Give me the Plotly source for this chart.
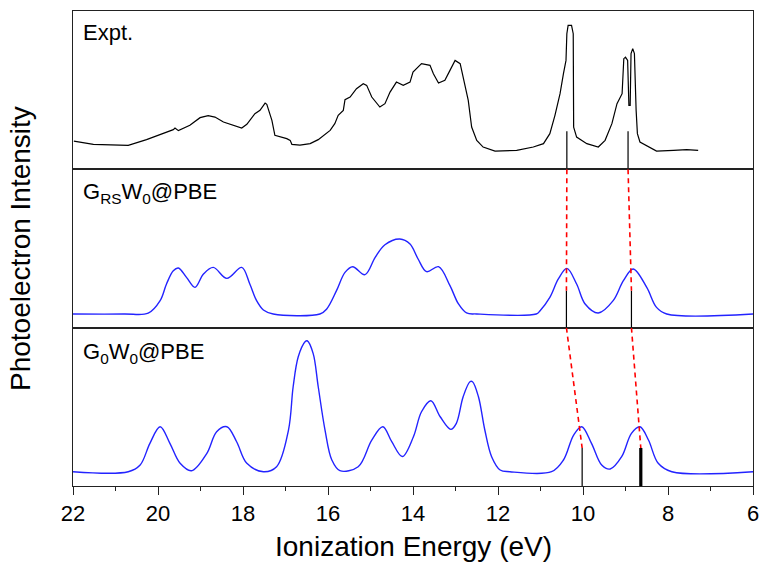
import plotly.graph_objects as go
from plotly.subplots import make_subplots

# ---------------- data ----------------
expt_E = [21.98, 21.52, 20.70, 20.27, 19.64, 19.60, 19.52, 19.25, 19.01, 18.82, 18.66, 18.46,
          18.03, 17.91, 17.72, 17.60, 17.48, 17.44, 17.32, 17.25, 16.97, 16.89, 16.85, 16.66,
          16.42, 16.23, 15.95, 15.84, 15.76, 15.64, 15.60, 15.48, 15.33, 15.17, 15.09, 14.97,
          14.78, 14.66, 14.54, 14.39, 14.23, 14.07, 14.00, 13.80, 13.60, 13.52, 13.40, 13.25,
          13.13, 13.01, 12.89, 12.78, 12.70, 12.62, 12.50, 12.35, 12.07, 11.56, 11.17, 10.93,
          10.78, 10.66, 10.54, 10.46, 10.40, 10.38, 10.35, 10.27, 10.23, 10.22, 10.15, 9.91,
          9.64, 9.48, 9.32, 9.20, 9.08, 9.04, 9.00, 8.95, 8.92, 8.89, 8.87, 8.83, 8.79, 8.75,
          8.72, 8.66, 8.27, 7.87, 7.56, 7.29]
expt_I = [28.3, 25.0, 24.0, 29.7, 39.7, 41.3, 38.7, 44.0, 51.7, 53.7, 52.3, 47.3,
          41.3, 45.0, 55.7, 59.0, 66.3, 65.0, 49.0, 34.0, 30.7, 29.0, 25.0, 24.3,
          25.7, 29.7, 39.0, 45.7, 54.0, 59.0, 69.7, 72.3, 80.7, 85.7, 84.0, 72.3,
          62.3, 65.7, 77.3, 87.3, 84.0, 87.3, 97.3, 105.7, 104.0, 95.7, 86.3, 89.0,
          99.0, 109.0, 105.7, 82.3, 69.0, 42.3, 29.0, 22.3, 18.3, 19.0, 22.3, 25.7,
          35.7, 54.0, 75.7, 95.7, 109.0, 135.7, 144.0, 144.0, 135.7, 42.3, 32.3, 25.7,
          22.3, 29.0, 45.7, 65.7, 75.7, 110.7, 112.3, 109.0, 64.0, 64.0, 115.7, 120.7, 115.7, 59.0,
          35.7, 27.3, 18.3, 19.0, 19.7, 19.0]

grs_E = [22.0, 20.8, 20.23, 19.95, 19.80, 19.64, 19.52, 19.33, 19.13, 18.93, 18.70, 18.38,
         18.03, 17.84, 17.68, 17.52, 17.29, 16.19, 16.03, 15.80, 15.60, 15.42, 15.13, 14.89,
         14.66, 14.31, 14.07, 13.88, 13.68, 13.40, 13.13, 12.93, 12.74, 12.5, 11.1, 11.01,
         10.78, 10.58, 10.38, 10.15, 9.95, 9.64, 9.29, 9.05, 8.82, 8.50, 8.27, 8.03, 6.0]
grs_I = [13.7, 13.7, 14.5, 27.0, 43.7, 57.0, 59.7, 50.3, 40.3, 53.7, 60.3, 49.3,
         60.3, 43.7, 27.0, 17.7, 13.7, 13.7, 18.7, 37.0, 55.3, 61.0, 53.0, 70.3,
         83.0, 88.7, 83.7, 68.7, 56.0, 61.0, 42.0, 23.7, 14.7, 13.7, 13.7, 17.0,
         30.3, 48.7, 59.3, 43.7, 23.7, 14.7, 27.0, 47.0, 58.7, 40.3, 20.3, 13.7, 13.7]

g0_E = [22.0, 20.70, 20.42, 20.19, 19.95, 19.72, 19.48, 19.21, 18.85, 18.62, 18.38, 18.15,
        17.91, 17.52, 17.21, 16.93, 16.82, 16.70, 16.54, 16.49, 16.35, 16.23, 16.07, 15.91,
        15.72, 15.29, 14.97, 14.71, 14.50, 14.25, 13.99, 13.80, 13.58, 13.36, 13.11, 12.98,
        12.82, 12.66, 12.60, 12.46, 12.31, 12.15, 11.95, 11.72, 10.74, 10.46, 10.22, 10.03,
        9.80, 9.56, 9.36, 9.09, 8.86, 8.66, 8.46, 8.23, 7.91, 6.0]
g0_I = [14.3, 14.3, 21.0, 42.7, 59.3, 42.7, 22.7, 15.3, 32.7, 54.3, 59.3, 44.3,
        22.7, 14.3, 19.3, 56.0, 99.3, 129.3, 144.3, 145.3, 132.7, 99.3, 56.0, 26.0,
        15.3, 19.3, 46.0, 59.3, 44.3, 29.5, 49.3, 74.3, 85.3, 69.3, 56.7, 62.7,
        89.3, 104.3, 104.3, 89.3, 56.0, 29.3, 16.0, 14.3, 14.3, 26.0, 51.0, 59.3,
        42.7, 21.0, 17.0, 29.3, 52.7, 59.3, 46.0, 22.7, 14.3, 14.3]

expt_sticks_E = [10.38, 8.94]
expt_sticks_h = [38, 38]
grs_sticks_E = [10.39, 8.86]
grs_sticks_h = [37, 37]
g0_sticks_E = [10.02, 8.64]
g0_sticks_h = [38, 38]
g0_sticks_w = [1.2, 3.2]

panel_labels = ["Expt.", "G<sub>RS</sub>W<sub>0</sub>@PBE", "G<sub>0</sub>W<sub>0</sub>@PBE"]
x_ticks = [22, 20, 18, 16, 14, 12, 10, 8, 6]
x_minor = [21, 19, 17, 15, 13, 11, 9, 7]

Y_TOP = 158.4
FONT = "Liberation Sans, Arial, sans-serif"

fig = make_subplots(rows=3, cols=1, shared_xaxes=True, vertical_spacing=0)

# experimental spectrum
fig.add_trace(go.Scatter(x=expt_E, y=expt_I, mode="lines",
                         line=dict(color="black", width=1.2)), row=1, col=1)
for e, h in zip(expt_sticks_E, expt_sticks_h):
    fig.add_trace(go.Scatter(x=[e, e], y=[0, h], mode="lines",
                             line=dict(color="black", width=1.2)), row=1, col=1)

# GRS W0
fig.add_trace(go.Scatter(x=grs_E, y=grs_I, mode="lines", line_shape="spline",
                         line=dict(color="rgb(35,35,255)", width=1.4)), row=2, col=1)
for e, h in zip(grs_sticks_E, grs_sticks_h):
    fig.add_trace(go.Scatter(x=[e, e], y=[0, h], mode="lines",
                             line=dict(color="black", width=1.2)), row=2, col=1)
for e0, e1, h in zip(expt_sticks_E, grs_sticks_E, grs_sticks_h):
    fig.add_trace(go.Scatter(x=[e0, e1], y=[Y_TOP, h], mode="lines",
                             line=dict(color="red", width=1.6, dash="5px,4px")), row=2, col=1)

# G0 W0
fig.add_trace(go.Scatter(x=g0_E, y=g0_I, mode="lines", line_shape="spline",
                         line=dict(color="rgb(35,35,255)", width=1.4)), row=3, col=1)
for e, h, w in zip(g0_sticks_E, g0_sticks_h, g0_sticks_w):
    fig.add_trace(go.Scatter(x=[e, e], y=[0, h], mode="lines",
                             line=dict(color="black", width=w)), row=3, col=1)
for e0, e1, h in zip(grs_sticks_E, g0_sticks_E, g0_sticks_h):
    fig.add_trace(go.Scatter(x=[e0, e1], y=[Y_TOP, h], mode="lines",
                             line=dict(color="red", width=1.6, dash="5px,4px")), row=3, col=1)

axis_common = dict(showline=True, mirror=True, linecolor="#222", linewidth=1,
                   showgrid=False, zeroline=False, automargin=False)
for r in (1, 2, 3):
    fig.update_yaxes(range=[0, Y_TOP], showticklabels=False, ticks="", **axis_common,
                     row=r, col=1)
for r in (1, 2):
    fig.update_xaxes(range=[22, 6], ticks="", showticklabels=False, **axis_common,
                     row=r, col=1)
fig.update_xaxes(range=[22, 6], tickmode="array", tickvals=x_ticks,
                 ticktext=[str(v) for v in x_ticks], ticks="outside", ticklen=8,
                 tickwidth=1, tickcolor="#222",
                 minor=dict(ticks="outside", ticklen=4, tickwidth=1, tickcolor="#222",
                            tickmode="array", tickvals=x_minor),
                 tickfont=dict(family=FONT, size=22, color="black"),
                 **axis_common, row=3, col=1)

label_y = [0.955, 0.617, 0.281]
annotations = []
for txt, yy in zip(panel_labels, label_y):
    annotations.append(dict(text=txt, xref="paper", yref="paper", x=0.012, y=yy,
                            xanchor="left", yanchor="middle", showarrow=False,
                            font=dict(family=FONT, size=22, color="black")))
annotations.append(dict(text="Ionization Energy (eV)", xref="paper", yref="paper",
                        x=0.5, y=0, yanchor="top", yshift=-43, showarrow=False,
                        font=dict(family=FONT, size=28, color="black")))
annotations.append(dict(text="Photoelectron Intensity", xref="paper", yref="paper",
                        x=0, y=0.5, xanchor="right", xshift=-35, textangle=-90,
                        showarrow=False,
                        font=dict(family=FONT, size=28, color="black")))

fig.update_layout(width=760, height=562, showlegend=False,
                  margin=dict(l=73, r=7, t=11, b=76, autoexpand=False),
                  paper_bgcolor="white", plot_bgcolor="white",
                  annotations=annotations)

fig.write_html("out.html")
